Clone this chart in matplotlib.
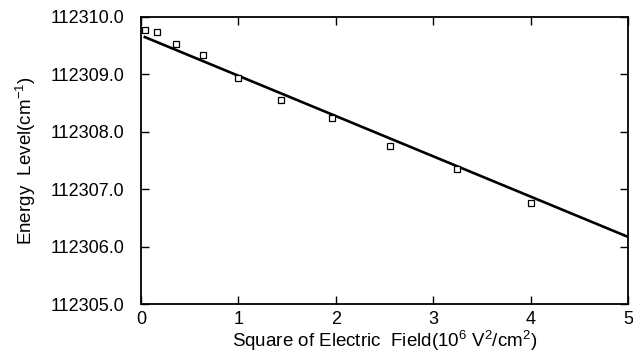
import matplotlib
matplotlib.use('Agg')
import matplotlib.pyplot as plt
from matplotlib.ticker import FormatStrFormatter

# 数据：电场平方 (10^6 V^2/cm^2) 与能级 (cm^-1)
field_sq = [0.04, 0.16, 0.36, 0.64, 1.00, 1.44, 1.96, 2.56, 3.24, 4.00]
energy = [112309.77, 112309.73, 112309.53, 112309.34, 112308.93,
          112308.55, 112308.24, 112307.75, 112307.35, 112306.76]

# 拟合直线的端点
fit_x = [0.04, 5.0]
fit_y = [112309.65, 112306.17]

x_ticks = [0, 1, 2, 3, 4, 5]
y_ticks = [112305.0, 112306.0, 112307.0, 112308.0, 112309.0, 112310.0]

plt.rcParams['font.family'] = ['Liberation Sans', 'DejaVu Sans']
plt.rcParams['mathtext.fontset'] = 'custom'
plt.rcParams['mathtext.rm'] = 'Liberation Sans'

fig = plt.figure(figsize=(6.33, 3.54), dpi=100)
ax = fig.add_axes([0.2227, 0.1412, 0.7693, 0.8108])

ax.plot(fit_x, fit_y, color='black', linewidth=1.9)
ax.plot(field_sq, energy, linestyle='none', marker='s', markersize=5,
        markerfacecolor='white', markeredgecolor='black', markeredgewidth=0.9)

ax.set_xlim(0, 5)
ax.set_ylim(112305.0, 112310.0)
ax.set_xticks(x_ticks)
ax.set_yticks(y_ticks)
ax.yaxis.set_major_formatter(FormatStrFormatter('%.1f'))

ax.tick_params(direction='in', length=6, width=1, top=True, right=True,
               labelsize=13)
ax.tick_params(axis='y', pad=12)
ax.tick_params(axis='x', pad=5)
for sp in ax.spines.values():
    sp.set_linewidth(1.3)

ax.set_xlabel(r'Square of Electric  Field(10$^{6}$ V$^{2}$/cm$^{2}$)', fontsize=13.5,
              labelpad=0)
ax.set_ylabel(r'Energy  Level(cm$^{-1}$)', fontsize=13.5, labelpad=9)

fig.savefig('out.png', dpi=100)
plt.close()
